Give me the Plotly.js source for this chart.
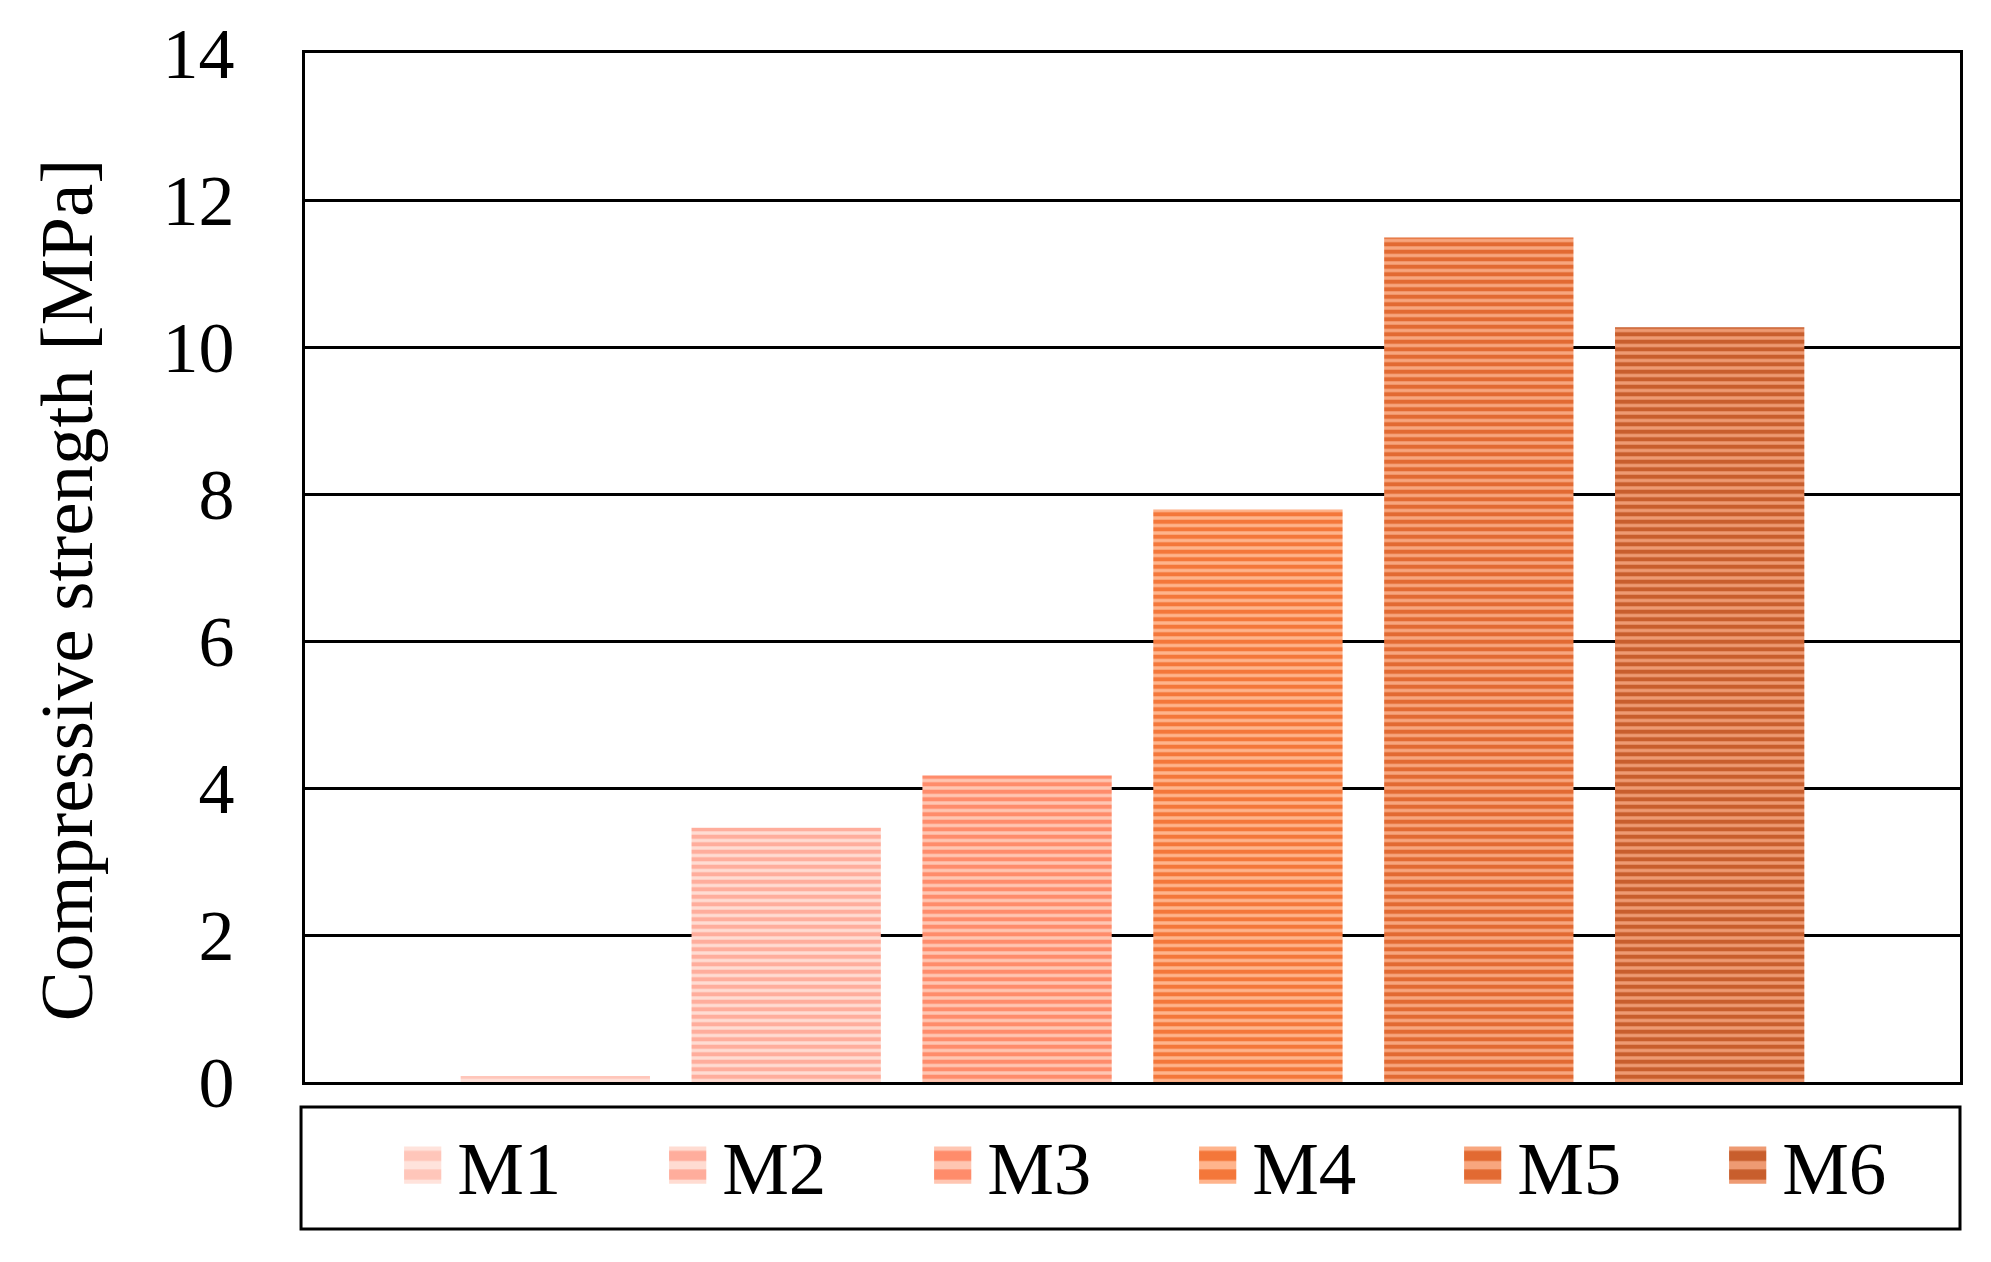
<!DOCTYPE html>
<html>
<head>
<meta charset="utf-8">
<script src="https://cdn.plot.ly/plotly-3.0.1.min.js"></script>
<style>
html,body{margin:0;padding:0;background:#fff;}
#chart{width:1991px;height:1262px;}
</style>
</head>
<body>
<div id="chart"></div>
<script>
const seriesNames = ['M1', 'M2', 'M3', 'M4', 'M5', 'M6'];
const strengthValues = [0.08, 3.46, 4.17, 7.79, 11.49, 10.27];
const stripeColors = ['#FFC6BA', '#FFAD9C', '#FF8C6B', '#F4773A', '#E26A32', '#C85E2D'];
const lightColors = ['#FFE3DC', '#FFDCD2', '#FFC6B2', '#FFB48C', '#F8A67E', '#EE9A72'];
const yTicks = [0, 2, 4, 6, 8, 10, 12, 14];
const yTitle = 'Compressive strength [MPa]';

const FONT = '"Liberation Serif", "Times New Roman", serif';

const traces = seriesNames.map((name, i) => ({
  type: 'bar',
  name: name,
  x: [''],
  y: [strengthValues[i]],
  marker: {
    color: stripeColors[i],
    line: {width: 0},
    pattern: {
      shape: '-',
      fillmode: 'replace',
      bgcolor: lightColors[i],
      fgcolor: stripeColors[i],
      size: 7.5,
      solidity: 0.55
    }
  },
  hoverinfo: 'none'
}));

const layout = {
  width: 1991,
  height: 1262,
  paper_bgcolor: '#ffffff',
  plot_bgcolor: '#ffffff',
  font: {family: FONT, size: 75, color: '#000000'},
  margin: {l: 305, r: 31, t: 53, b: 180, pad: 0, autoexpand: false},
  barmode: 'group',
  bargap: 0.163,
  bargroupgap: 0.18,
  showlegend: true,
  xaxis: {
    showticklabels: false,
    ticks: '',
    showgrid: false,
    zeroline: false,
    showline: true,
    mirror: true,
    linecolor: '#000000',
    linewidth: 3,
    fixedrange: true
  },
  yaxis: {
    range: [0, 14],
    tickvals: yTicks,
    ticktext: yTicks.map(String),
    ticks: '',
    ticklabelstandoff: 53,
    showgrid: true,
    gridcolor: '#000000',
    gridwidth: 3,
    zeroline: false,
    showline: true,
    mirror: true,
    linecolor: '#000000',
    linewidth: 3,
    tickfont: {family: FONT, size: 72, color: '#000000'},
    fixedrange: true
  },
  legend: {
    orientation: 'h',
    xref: 'container',
    yref: 'container',
    x: 0.202,
    xanchor: 'left',
    y: 0.0765,
    yanchor: 'middle',
    bgcolor: 'rgba(0,0,0,0)',
    borderwidth: 0,
    font: {family: FONT, size: 75, color: '#000000'},
    itemwidth: 45,
    entrywidth: 205,
    entrywidthmode: 'pixels',
    itemclick: false,
    itemdoubleclick: false,
    tracegroupgap: 0
  },
  annotations: [{
    text: yTitle,
    xref: 'paper', yref: 'paper',
    x: -0.1444, y: 0.478,
    xanchor: 'center', yanchor: 'middle',
    textangle: -90,
    showarrow: false,
    font: {family: FONT, size: 75, color: '#000000'}
  }],
  shapes: [{
    type: 'rect',
    xref: 'paper', yref: 'paper',
    x0: -0.0024, x1: 1.0,
    y0: -0.1429, y1: -0.0243,
    line: {color: '#000000', width: 3},
    fillcolor: 'rgba(0,0,0,0)',
    layer: 'below'
  }]
};

Plotly.newPlot('chart', traces, layout, {displayModeBar: false, staticPlot: true}).then(function(gd){
  // enlarge legend swatches to match the reference's square markers
  const pts = gd.querySelectorAll('.legend .legendpoints path');
  pts.forEach(function(p){
    p.setAttribute('transform', 'translate(20.5,0) scale(3.1)');
    p.style.strokeWidth = '0';
  });
});
</script>
</body>
</html>
